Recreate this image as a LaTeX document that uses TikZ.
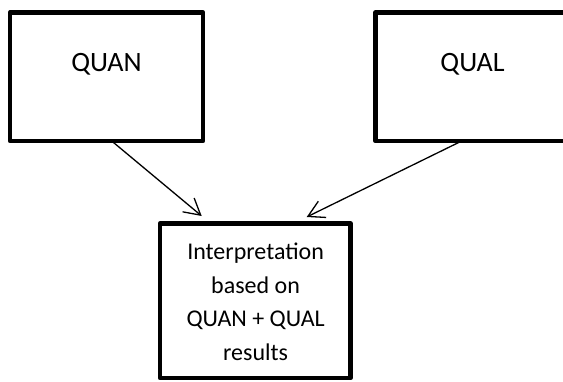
\documentclass[tikz,border=0pt]{standalone}
\usepackage{fontspec}
\setmainfont{Carlito}
\usetikzlibrary{arrows.meta}
\begin{document}
\begin{tikzpicture}[x=1pt,y=-1pt,
  box/.style={draw=black, line width=4.8pt, line join=round, inner sep=0pt, outer sep=0pt, fill=white},
  big/.style={font=\fontsize{28}{34}\selectfont, inner sep=0pt, anchor=base},
  small/.style={font=\fontsize{24}{33.7}\selectfont, align=center, inner sep=0pt},
  arr/.style={line width=1.3pt, -{Straight Barb[length=16pt,width=18pt,line width=1.3pt]}}]
\useasboundingbox (0,0) rectangle (563,381);
\clip (0,0) rectangle (563,381);
\fill[white] (0,0) rectangle (563,381);
\node[box, minimum width=193pt, minimum height=128.5pt] (quan) at (106.5,76.75) {};
\node[box, minimum width=199.5pt, minimum height=128.5pt] (qual) at (475.25,76.75) {};
\node[box, minimum width=190.5pt, minimum height=154.5pt] (interp) at (255.25,300.75) {};
\node[big] (quantxt) at (106.5,71.7) {QUAN};
\node[big] (qualtxt) at (472.5,71.7) {QUAL};
\node[small] (interptxt) at (255.6,301.75) {Interpretation\\based on\\QUAN + QUAL\\results};
\draw[arr] ([xshift=5.2pt]quan.south) -- ([xshift=41.7pt,yshift=7.5pt]interp.north west);
\draw[arr] ([xshift=86.2pt]qual.south west) -- ([xshift=-43.8pt,yshift=6.5pt]interp.north east);
\end{tikzpicture}
\end{document}
